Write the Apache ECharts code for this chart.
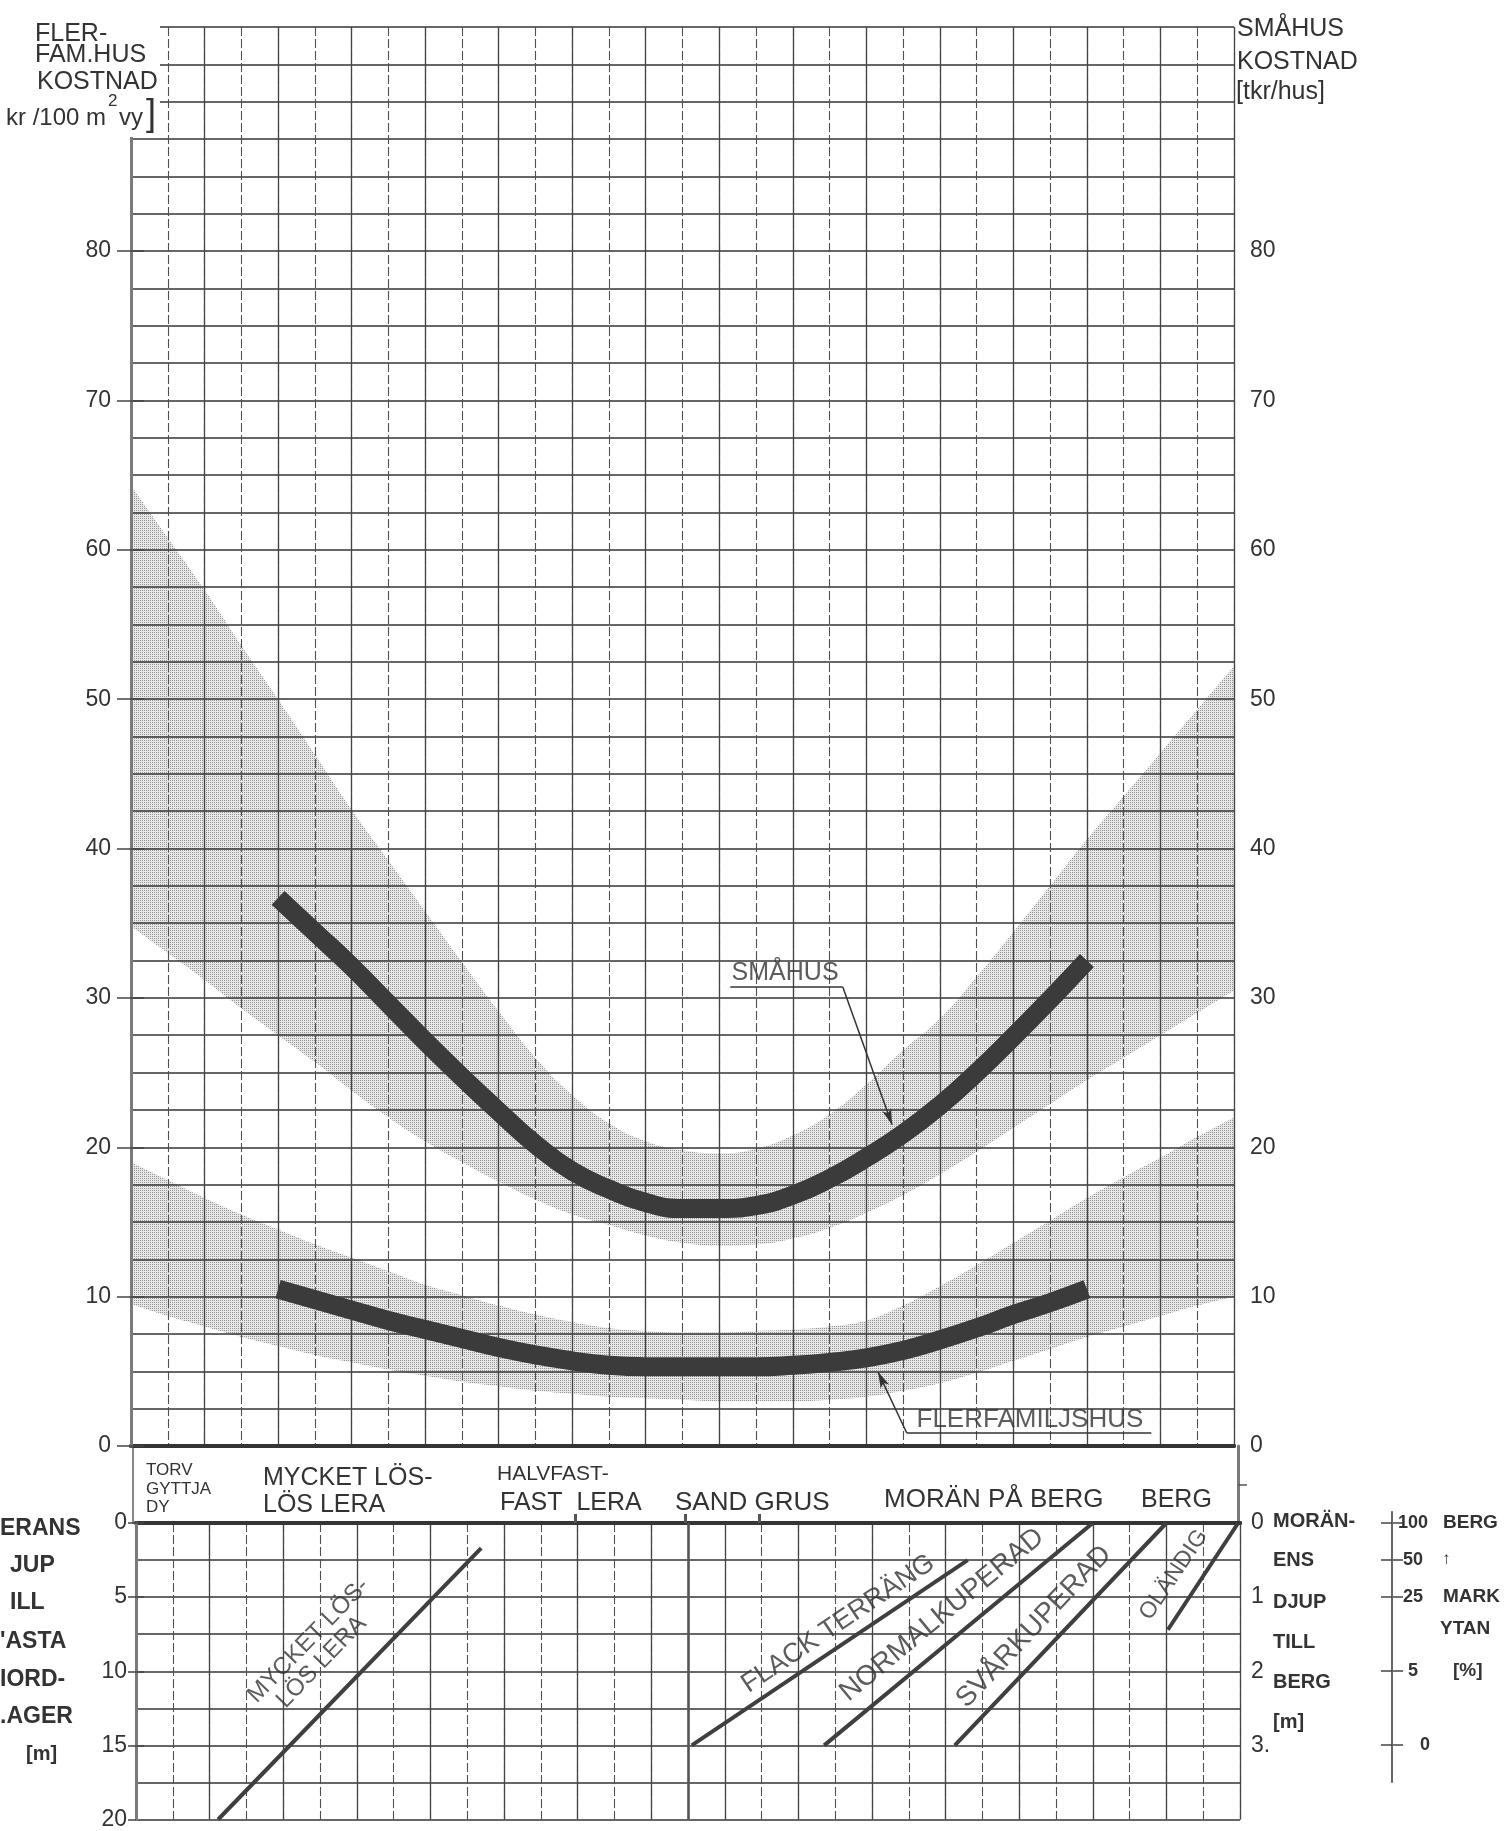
<!DOCTYPE html>
<html>
<head>
<meta charset="utf-8">
<title>Grundläggningskostnad</title>
<script src="https://cdn.jsdelivr.net/npm/echarts@6/dist/echarts.min.js"></script>
<style>
html,body{margin:0;padding:0;background:#ffffff;}
#chart{width:1511px;height:1831px;}
</style>
</head>
<body>
<div id="chart"></div>
<script>
// ---------------- data ----------------
const bandX = [0,1,2,3,4,5,6,7,8,9,10,11,12,13,14,15,16,17,18,19,20,21,22,23,24,25,26,27,28,29,30];
const smahusBandHigh = [64.3,60.8,57.3,53.6,50.0,46.3,42.6,39.2,35.8,32.4,29.1,26.0,23.5,21.6,20.4,19.8,19.6,19.9,20.8,22.2,24.2,26.5,28.6,31.4,34.4,37.5,40.6,43.5,46.4,49.3,52.2];
const smahusBandLow  = [34.8,33.0,31.2,29.3,27.5,25.7,23.8,22.0,20.4,19.0,17.7,16.5,15.5,14.8,14.1,13.6,13.4,13.5,13.9,14.6,15.6,16.8,18.2,19.7,21.3,22.9,24.5,26.0,27.5,29.0,30.5];
const flerBandHigh   = [19.0,17.8,16.6,15.5,14.5,13.5,12.6,11.7,10.8,10.1,9.4,8.8,8.3,7.9,7.7,7.6,7.6,7.7,7.8,8.0,8.4,9.4,10.7,12.1,13.6,15.1,16.6,18.0,19.3,20.7,22.0];
const flerBandLow    = [9.5,8.7,8.0,7.3,6.7,6.1,5.6,5.1,4.7,4.3,4.0,3.7,3.5,3.3,3.2,3.1,3.0,3.0,3.0,3.1,3.3,3.7,4.2,4.9,5.7,6.5,7.3,8.0,8.7,9.4,10.0];

const curveX     = [4,5,6,7,8,9,10,11,12,13,14,15,16,17,18,19,20,21,22,23,24,25,26];
const smahusCost = [36.7,34.4,32.1,29.6,27.1,24.7,22.4,20.2,18.4,17.2,16.3,15.9,15.9,16.1,16.8,17.9,19.3,20.9,22.8,25.0,27.4,29.9,32.5];
const flerCost   = [10.5,9.8,9.1,8.4,7.8,7.2,6.6,6.1,5.7,5.4,5.3,5.3,5.3,5.3,5.4,5.6,5.9,6.4,7.1,7.9,8.8,9.6,10.5];

const costTicks  = [0,10,20,30,40,50,60,70,80];
const depthTicks = [0,5,10,15,20];
const moranTicks = [0,1,2,3];
const markytaPos = [0,0.5,1,2,3];
const markytaPct = ['100','50','25','5','0'];
const markytaWord = ['BERG','↑','MARK','[%]',''];
const soilTickX = [12,15,17];

// lower panel lines: [x, depth(m)]
const lineMycketLos = [[2.23,20],[9.38,1.7]];
const lineFlack     = [[15.1,15],[22.6,2.5]];
const lineNormal    = [[18.7,15],[26.0,0]];
const lineSvar      = [[22.25,15],[28.0,0]];
const lineOlandig   = [[28.04,7.2],[29.95,0]];

const soilNotes = ['MYCKET LÖS-','LÖS LERA','FLACK TERRÄNG','NORMALKUPERAD','SVÅRKUPERAD','OLÄNDIG'];

// ---------------- layout ----------------
const FONT = "'Liberation Sans', Arial, sans-serif";
const INK = '#333333';
const soilNotePos  = [[4.69,7.93],[5.04,9.38],[19.08,6.8],[21.9,6.2],[24.4,7.0],[28.2,3.5]];
const soilNoteRot  = [46,46,34,39.5,46.5,56];
const soilNoteSize = [24,24,27,28,28,23];

const zip = (xs, ys) => xs.map((x, i) => [x, ys[i]]);

function stipple() {
  const c = document.createElement('canvas');
  c.width = 2; c.height = 2;
  const g = c.getContext('2d');
  g.fillStyle = '#e8e8e8'; g.fillRect(0, 0, 2, 2);
  g.fillStyle = '#939393'; g.fillRect(0, 0, 1, 1);
  return c;
}
const pattern = { image: stipple(), repeat: 'repeat' };

const chart = echarts.init(document.getElementById('chart'), null, { renderer: 'canvas' });

const hidden = { show: false };
const gridLineSolid = { show: true, lineStyle: { color: '#353535', width: 1.6 } };
const vDashed = { show: true, lineStyle: { color: '#505050', width: 1.1, type: [9, 3] } };
const vSolid = { show: true, lineStyle: { color: '#444444', width: 1.3 } };

function band(values, fill) {
  return { type: 'line', xAxisIndex: 0, yAxisIndex: 0, smooth: true, symbol: 'none', silent: true, z: 1,
    lineStyle: { opacity: 0 }, areaStyle: { color: fill, opacity: 1 }, data: zip(bandX, values) };
}

const option = {
  animation: false,
  backgroundColor: '#ffffff',
  textStyle: { fontFamily: FONT, color: INK },
  grid: [
    { left: 131, top: 27, width: 1103, height: 1419 },      // main cost chart
    { left: 133, top: 1446, width: 1105, height: 77 },      // soil-type label band
    { left: 136, top: 1523, width: 1104, height: 297 },     // depth panel
    { left: 1392, top: 1512, width: 1, height: 270 }        // markytan % scale
  ],
  xAxis: [
    { gridIndex: 0, type: 'value', min: 0, max: 30, interval: 1, position: 'bottom', z: 3,
      axisLine: { show: true, lineStyle: { color: '#353535', width: 4 } },
      axisTick: hidden, axisLabel: hidden, splitLine: vDashed },
    { gridIndex: 0, type: 'value', min: 0, max: 30, interval: 2, position: 'top', z: 3,
      axisLine: { show: true, lineStyle: { color: '#353535', width: 4 } },
      axisTick: hidden, axisLabel: hidden, splitLine: vSolid },
    { gridIndex: 1, type: 'value', min: 0, max: 30, interval: 1, position: 'bottom', z: 3,
      axisLine: hidden, axisLabel: hidden, splitLine: hidden,
      axisTick: { show: true, inside: true, length: 9, customValues: soilTickX, lineStyle: { color: '#555', width: 3 } } },
    { gridIndex: 2, type: 'value', min: 0, max: 30, interval: 1, position: 'bottom', z: 3,
      axisLine: { show: true, lineStyle: { color: '#353535', width: 4 } },
      axisTick: hidden, axisLabel: hidden, splitLine: vDashed },
    { gridIndex: 2, type: 'value', min: 0, max: 30, interval: 2, position: 'top', z: 3,
      axisLine: { show: true, lineStyle: { color: '#353535', width: 4 } },
      axisTick: hidden, axisLabel: hidden, splitLine: vSolid },
    { gridIndex: 3, type: 'value', min: 0, max: 1, show: false }
  ],
  yAxis: [
    // 0 main left labels
    { gridIndex: 0, type: 'value', min: 0, max: 95, interval: 2.5, position: 'left', z: 4,
      axisLine: { show: true, lineStyle: { color: '#7a7a7a', width: 3 } },
      axisTick: { show: true, length: 14, customValues: costTicks, lineStyle: { color: '#444', width: 1.5 } },
      axisLabel: { show: true, customValues: costTicks, margin: 20, fontSize: 23, color: INK, fontFamily: FONT },
      splitLine: hidden },
    // 1 main right labels
    { gridIndex: 0, type: 'value', min: 0, max: 95, interval: 2.5, position: 'right', z: 4,
      axisLine: { show: true, lineStyle: { color: '#7a7a7a', width: 3 } },
      axisTick: { show: true, length: 13, customValues: costTicks, lineStyle: { color: '#444', width: 1.5 } },
      axisLabel: { show: true, customValues: costTicks, margin: 16, fontSize: 23, color: INK, fontFamily: FONT },
      splitLine: hidden },
    // 2,3 label band borders
    { gridIndex: 1, type: 'value', min: 0, max: 1, position: 'left', z: 3,
      axisLine: { show: true, lineStyle: { color: '#888', width: 2 } },
      axisTick: hidden, axisLabel: hidden, splitLine: hidden },
    { gridIndex: 1, type: 'value', min: 0, max: 1, position: 'right', z: 3,
      axisLine: { show: true, lineStyle: { color: '#7a7a7a', width: 3 } },
      axisTick: { show: true, length: 9, customValues: [0.5], lineStyle: { color: '#555', width: 1.5 } },
      axisLabel: hidden, splitLine: hidden },
    // 4 depth left
    { gridIndex: 2, type: 'value', min: 0, max: 20, interval: 2.5, inverse: true, position: 'left', z: 4,
      axisLine: { show: true, lineStyle: { color: '#7a7a7a', width: 3 } },
      axisTick: { show: true, length: 8, customValues: depthTicks, lineStyle: { color: '#444', width: 1.5 } },
      axisLabel: { show: true, customValues: depthTicks, margin: 9, fontSize: 23, color: INK, fontFamily: FONT },
      splitLine: hidden },
    // 5 moraine depth right
    { gridIndex: 2, type: 'value', min: 0, max: 4, interval: 1, inverse: true, position: 'right', z: 4,
      axisLine: { show: true, lineStyle: { color: '#7a7a7a', width: 3 } },
      axisTick: { show: true, length: 8, customValues: moranTicks, lineStyle: { color: '#444', width: 1.5 } },
      axisLabel: { show: true, customValues: moranTicks, margin: 11, fontSize: 23, color: INK, fontFamily: FONT,
        formatter: v => (v === 3 ? '3.' : String(v)) },
      splitLine: hidden },
    // 6,7 markytan scale
    { gridIndex: 3, type: 'value', min: -0.15, max: 3.5, inverse: true, position: 'left', z: 3,
      axisLine: { show: true, lineStyle: { color: '#666', width: 2 } },
      axisTick: { show: true, length: 11, customValues: markytaPos, lineStyle: { color: '#444', width: 1.5 } },
      axisLabel: hidden, splitLine: hidden },
    { gridIndex: 3, type: 'value', min: -0.15, max: 3.5, inverse: true, position: 'right', z: 3,
      axisLine: hidden,
      axisTick: { show: true, length: 10, customValues: markytaPos, lineStyle: { color: '#444', width: 1.5 } },
      axisLabel: { show: true, customValues: markytaPos, margin: 3, color: INK, fontFamily: FONT, align: 'left',
        formatter: v => {
          const i = markytaPos.indexOf(v);
          if (i < 0) return '';
          const w = markytaWord[i];
          let tail = '';
          if (w === '[%]') tail = '{u|' + w + '}';
          else if (w === '↑') tail = '{a|' + w + '}';
          else if (w) tail = '{w|' + w + '}';
          return '{n|' + markytaPct[i] + '}' + tail;
        },
        rich: {
          n: { width: 34, align: 'right', fontSize: 18, fontWeight: 'bold', color: INK, fontFamily: FONT },
          w: { fontSize: 19, fontWeight: 'bold', color: INK, padding: [0, 0, 0, 13], fontFamily: FONT },
          u: { fontSize: 19, fontWeight: 'bold', color: INK, padding: [0, 0, 0, 23], fontFamily: FONT },
          a: { fontSize: 17, color: INK, padding: [0, 0, 2, 12], fontFamily: FONT }
        } },
      splitLine: hidden },
    // 8 main horizontal grid lines (every 2.5)
    { gridIndex: 0, type: 'value', min: 0, max: 95, interval: 2.5, position: 'left', z: 3,
      axisLine: hidden, axisTick: hidden, axisLabel: hidden, splitLine: gridLineSolid },
    // 9 depth panel horizontal grid lines (every 2.5 m)
    { gridIndex: 2, type: 'value', min: 0, max: 20, interval: 2.5, inverse: true, position: 'left', z: 3,
      axisLine: hidden, axisTick: hidden, axisLabel: hidden, splitLine: gridLineSolid }
  ],
  series: [
    // bands: stipple down to the upper edge, white down to the lower edge
    band(smahusBandHigh, pattern),
    band(smahusBandLow, '#ffffff'),
    band(flerBandHigh, pattern),
    band(flerBandLow, '#ffffff'),
    // curves
    { name: 'SMÅHUS', type: 'line', xAxisIndex: 0, yAxisIndex: 0, smooth: true, symbol: 'none', z: 6,
      lineStyle: { color: '#3b3b3b', width: 19, cap: 'butt' }, data: zip(curveX, smahusCost) },
    { name: 'FLERFAMILJSHUS', type: 'line', xAxisIndex: 0, yAxisIndex: 0, smooth: true, symbol: 'none', z: 6,
      lineStyle: { color: '#3b3b3b', width: 19, cap: 'butt' }, data: zip(curveX, flerCost) },
    // annotation leaders
    { type: 'line', xAxisIndex: 0, yAxisIndex: 0, data: [], z: 7, silent: true,
      markLine: { silent: true, animation: false, symbol: ['none', 'none'], label: { show: false },
        lineStyle: { color: '#333', width: 1.5, type: 'solid' },
        data: [
          [{ coord: [16.30, 30.73] }, { coord: [19.36, 30.73] }],
          [{ coord: [19.36, 30.73] }, { coord: [20.70, 21.5], symbol: 'arrow', symbolSize: [7, 16] }],
          [{ coord: [21.10, 0.87] }, { coord: [27.75, 0.87] }],
          [{ coord: [21.10, 0.87] }, { coord: [20.32, 4.95], symbol: 'arrow', symbolSize: [7, 16] }]
        ] } },
    { type: 'scatter', xAxisIndex: 0, yAxisIndex: 0, symbolSize: 0, z: 7, silent: true,
      label: { show: true, position: 'inside', formatter: '{b}', color: INK, fontFamily: FONT },
      data: [ { name: 'SMÅHUS', value: [17.79, 31.67], label: { fontSize: 25 } },
              { name: 'FLERFAMILJSHUS', value: [24.45, 1.72], label: { fontSize: 26 } } ] },
    // depth panel lines
    ...[lineMycketLos, lineFlack, lineNormal, lineSvar, lineOlandig].map(d => ({
      type: 'line', xAxisIndex: 3, yAxisIndex: 4, symbol: 'none', z: 6, silent: true,
      lineStyle: { color: '#3f3f3f', width: 4 }, data: d })),
    { type: 'scatter', xAxisIndex: 3, yAxisIndex: 4, symbolSize: 0, z: 7, silent: true,
      label: { show: true, position: 'inside', formatter: '{b}', color: INK, fontFamily: FONT },
      data: soilNotes.map((t, i) => ({ name: t, value: soilNotePos[i],
        label: { rotate: soilNoteRot[i], fontSize: soilNoteSize[i] } })) },
    { type: 'line', xAxisIndex: 3, yAxisIndex: 4, data: [], z: 4, silent: true,
      markLine: { silent: true, animation: false, symbol: ['none', 'none'], label: { show: false },
        lineStyle: { color: '#555', width: 2.6, type: 'solid' }, data: [{ xAxis: 15 }] } }
  ],
  graphic: {
    elements: [
      { type: 'rect', z: 50, shape: { x: 0, y: 0, width: 160, height: 137 }, style: { fill: '#ffffff' } },
      { type: 'text', z: 51, x: 35, y: 34, style: { text: 'FLER-', fontSize: 25, fontFamily: FONT, fill: INK, verticalAlign: 'middle' } },
      { type: 'text', z: 51, x: 35, y: 55, style: { text: 'FAM.HUS', fontSize: 25, fontFamily: FONT, fill: INK, verticalAlign: 'middle' } },
      { type: 'text', z: 51, x: 37, y: 82, style: { text: 'KOSTNAD', fontSize: 25, fontFamily: FONT, fill: INK, verticalAlign: 'middle' } },
      { type: 'text', z: 51, x: 106, y: 118, style: { text: 'kr /100 m', fontSize: 24, fontFamily: FONT, fill: INK, align: 'right', verticalAlign: 'middle' } },
      { type: 'text', z: 51, x: 108, y: 101, style: { text: '2', fontSize: 17, fontFamily: FONT, fill: INK, verticalAlign: 'middle' } },
      { type: 'text', z: 51, x: 119, y: 118, style: { text: 'vy', fontSize: 24, fontFamily: FONT, fill: INK, verticalAlign: 'middle' } },
      { type: 'text', z: 51, x: 146, y: 115, style: { text: ']', fontSize: 36, fontFamily: FONT, fill: INK, verticalAlign: 'middle' } },

      { type: 'text', z: 51, x: 1237, y: 29, style: { text: 'SMÅHUS', fontSize: 25, fontFamily: FONT, fill: INK, verticalAlign: 'middle' } },
      { type: 'text', z: 51, x: 1237, y: 62, style: { text: 'KOSTNAD', fontSize: 25, fontFamily: FONT, fill: INK, verticalAlign: 'middle' } },
      { type: 'text', z: 51, x: 1236, y: 92, style: { text: '[tkr/hus]', fontSize: 25, fontFamily: FONT, fill: INK, verticalAlign: 'middle' } },

      { type: 'text', z: 51, x: 146, y: 1470, style: { text: 'TORV', fontSize: 17, fontFamily: FONT, fill: INK, verticalAlign: 'middle' } },
      { type: 'text', z: 51, x: 146, y: 1489, style: { text: 'GYTTJA', fontSize: 17, fontFamily: FONT, fill: INK, verticalAlign: 'middle' } },
      { type: 'text', z: 51, x: 146, y: 1507, style: { text: 'DY', fontSize: 17, fontFamily: FONT, fill: INK, verticalAlign: 'middle' } },
      { type: 'text', z: 51, x: 263, y: 1478, style: { text: 'MYCKET LÖS-', fontSize: 25, fontFamily: FONT, fill: INK, verticalAlign: 'middle' } },
      { type: 'text', z: 51, x: 263, y: 1505, style: { text: 'LÖS LERA', fontSize: 25, fontFamily: FONT, fill: INK, verticalAlign: 'middle' } },
      { type: 'text', z: 51, x: 497, y: 1474, style: { text: 'HALVFAST-', fontSize: 21, fontFamily: FONT, fill: INK, verticalAlign: 'middle' } },
      { type: 'text', z: 51, x: 500, y: 1503, style: { text: 'FAST  LERA', fontSize: 25, fontFamily: FONT, fill: INK, verticalAlign: 'middle' } },
      { type: 'text', z: 51, x: 675, y: 1503, style: { text: 'SAND GRUS', fontSize: 26, fontFamily: FONT, fill: INK, verticalAlign: 'middle' } },
      { type: 'text', z: 51, x: 884, y: 1500, style: { text: 'MORÄN PÅ BERG', fontSize: 26, fontFamily: FONT, fill: INK, verticalAlign: 'middle' } },
      { type: 'text', z: 51, x: 1141, y: 1500, style: { text: 'BERG', fontSize: 25, fontFamily: FONT, fill: INK, verticalAlign: 'middle' } },

      { type: 'text', z: 51, x: 0, y: 1529, style: { text: 'ERANS', fontSize: 23, fontWeight: 'bold', fontFamily: FONT, fill: INK, verticalAlign: 'middle' } },
      { type: 'text', z: 51, x: 10, y: 1566, style: { text: 'JUP', fontSize: 23, fontWeight: 'bold', fontFamily: FONT, fill: INK, verticalAlign: 'middle' } },
      { type: 'text', z: 51, x: 10, y: 1603, style: { text: 'ILL', fontSize: 23, fontWeight: 'bold', fontFamily: FONT, fill: INK, verticalAlign: 'middle' } },
      { type: 'text', z: 51, x: 0, y: 1642, style: { text: '\'ASTA', fontSize: 23, fontWeight: 'bold', fontFamily: FONT, fill: INK, verticalAlign: 'middle' } },
      { type: 'text', z: 51, x: 0, y: 1680, style: { text: 'IORD-', fontSize: 23, fontWeight: 'bold', fontFamily: FONT, fill: INK, verticalAlign: 'middle' } },
      { type: 'text', z: 51, x: 0, y: 1717, style: { text: '.AGER', fontSize: 23, fontWeight: 'bold', fontFamily: FONT, fill: INK, verticalAlign: 'middle' } },
      { type: 'text', z: 51, x: 26, y: 1754, style: { text: '[m]', fontSize: 20, fontWeight: 'bold', fontFamily: FONT, fill: INK, verticalAlign: 'middle' } },

      { type: 'text', z: 51, x: 1273, y: 1521, style: { text: 'MORÄN-', fontSize: 20, fontWeight: 'bold', fontFamily: FONT, fill: INK, verticalAlign: 'middle' } },
      { type: 'text', z: 51, x: 1273, y: 1560, style: { text: 'ENS', fontSize: 20, fontWeight: 'bold', fontFamily: FONT, fill: INK, verticalAlign: 'middle' } },
      { type: 'text', z: 51, x: 1273, y: 1602, style: { text: 'DJUP', fontSize: 20, fontWeight: 'bold', fontFamily: FONT, fill: INK, verticalAlign: 'middle' } },
      { type: 'text', z: 51, x: 1273, y: 1642, style: { text: 'TILL', fontSize: 20, fontWeight: 'bold', fontFamily: FONT, fill: INK, verticalAlign: 'middle' } },
      { type: 'text', z: 51, x: 1273, y: 1682, style: { text: 'BERG', fontSize: 20, fontWeight: 'bold', fontFamily: FONT, fill: INK, verticalAlign: 'middle' } },
      { type: 'text', z: 51, x: 1273, y: 1722, style: { text: '[m]', fontSize: 20, fontWeight: 'bold', fontFamily: FONT, fill: INK, verticalAlign: 'middle' } },
      { type: 'text', z: 51, x: 1440, y: 1629, style: { text: 'YTAN', fontSize: 19, fontWeight: 'bold', fontFamily: FONT, fill: INK, verticalAlign: 'middle' } }
    ]
  }
};
chart.setOption(option);
</script>
</body>
</html>
